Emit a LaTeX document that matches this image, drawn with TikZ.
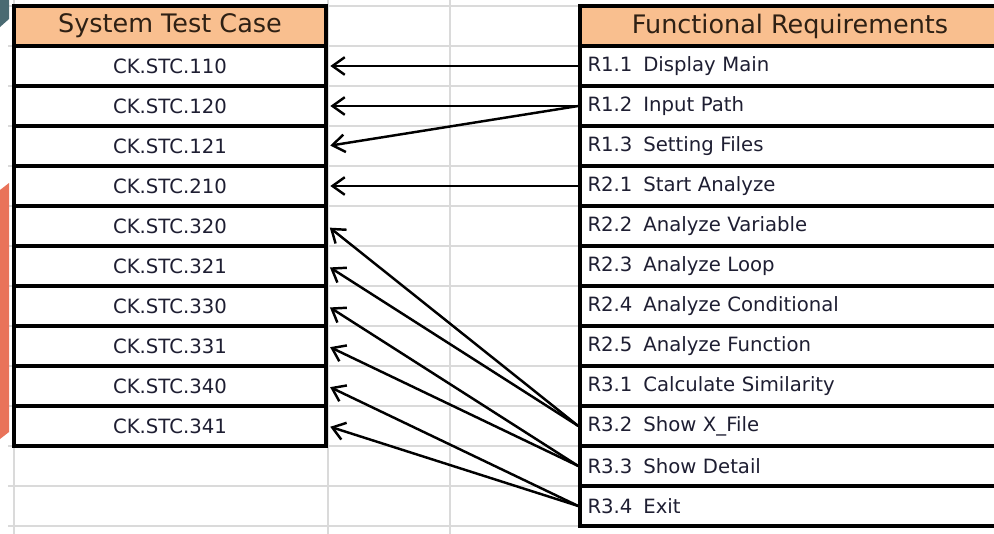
\documentclass[tikz,border=0pt]{standalone}
\usepackage{fontspec}
\setmainfont{DejaVu Sans}
\usepackage{xcolor}
\usetikzlibrary{arrows.meta, positioning}

\definecolor{hdrfill}{HTML}{F9BF8F}
\definecolor{hdrtext}{HTML}{2E2014}
\definecolor{celltext}{HTML}{1E1E32}
\definecolor{gridgray}{HTML}{DADADA}
\definecolor{slideteal}{HTML}{4A6A72}
\definecolor{slideorange}{HTML}{E9735A}

\tikzset{
  hdr/.style={draw=black, line width=2pt, fill=hdrfill, text=hdrtext, font=\fontsize{14.5}{16}\selectfont, minimum height=0.8cm, inner sep=0pt},
  tc/.style={draw=black, line width=2pt, fill=white, text=celltext, font=\fontsize{11.2}{13}\selectfont, minimum width=6.24cm, minimum height=0.8cm, inner sep=0pt},
  req/.style={tc, minimum width=8.4cm, text width=8.1cm, inner xsep=0.15cm, align=left},
  link/.style={-{Straight Barb[length=7pt,width=10pt,line width=1.4pt]}, line width=1.4pt, shorten >=1.5pt},
}

\begin{document}
\begin{tikzpicture}[x=0.02cm, y=-0.02cm]
    \useasboundingbox (0,0) rectangle (994,534);
    \clip (0,0) rectangle (994,534);
    \fill[white] (0,0) rectangle (994,534);

    % Sheet grid
    \foreach \y in {6,46,...,526}
        \draw[gridgray, line width=0.8pt] (8,\y) -- (994,\y);
    \foreach \x in {14,328,450}
        \draw[gridgray, line width=0.8pt] (\x,0) -- (\x,534);

    % Slide edge
    \fill[slideteal] (0,0) -- (9,0) -- (9,19) -- (0,27) -- cycle;
    \fill[slideorange] (0,190) -- (9,183) -- (9,432) -- (0,439) -- cycle;

    % System Test Case column
    \node[hdr, minimum width=6.24cm] (stchead) at (170,26) {System Test Case};
    \foreach \id [count=\i] in {110,120,121,210,320,321,330,331,340,341}
        \node[tc] (stc\id) at (170,26+40*\i) {CK.STC.\id};

    % Functional Requirements column
    \node[hdr, minimum width=8.4cm] (frhead) at (790,26) {Functional Requirements};
    \foreach \id/\num/\txt [count=\i] in {11/1.1/Display Main, 12/1.2/Input Path, 13/1.3/Setting Files,
        21/2.1/Start Analyze, 22/2.2/Analyze Variable, 23/2.3/Analyze Loop, 24/2.4/Analyze Conditional,
        25/2.5/Analyze Function, 31/3.1/Calculate Similarity, 32/3.2/Show X\_File, 33/3.3/Show Detail, 34/3.4/Exit}
        \node[req] (fr\id) at (790,26+40*\i) {R\num\hspace{0.55em}\txt};

    % Links
    \draw[link] (fr11.west) -- (stc110.east);
    \draw[link] (fr12.west) -- (stc120.east);
    \draw[link] (fr12.west) -- (stc121.east);
    \draw[link] (fr21.west) -- (stc210.east);
    \foreach \src/\dst in {32/320, 32/321, 33/330, 33/331, 34/340, 34/341}
        \draw[link] (fr\src.west) -- (stc\dst.east);
\end{tikzpicture}
\end{document}
